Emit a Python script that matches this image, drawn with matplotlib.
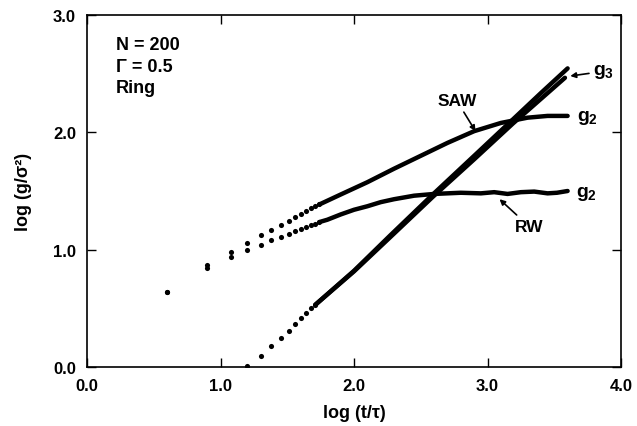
import matplotlib
matplotlib.use('Agg')
import matplotlib.pyplot as plt

plt.rcParams['font.family'] = ['Liberation Sans', 'DejaVu Sans']
plt.rcParams['font.weight'] = 'bold'
plt.rcParams['mathtext.fontset'] = 'custom'
plt.rcParams['mathtext.rm'] = 'Liberation Sans:bold'
plt.rcParams['mathtext.it'] = 'Liberation Sans:bold'
plt.rcParams['mathtext.bf'] = 'Liberation Sans:bold'

# ---- podatki, odcitani s slike ----
# zgodnje tocke (diskretni casi)
dot_x = [0.60, 0.90, 1.08, 1.20, 1.30, 1.38, 1.45, 1.51, 1.56, 1.60, 1.64, 1.68, 1.71, 1.74]
saw_dot_y = [0.64, 0.87, 0.98, 1.06, 1.125, 1.17, 1.21, 1.247, 1.276, 1.304, 1.33, 1.353, 1.37, 1.385]
rw_dot_y = [0.64, 0.84, 0.935, 0.997, 1.043, 1.08, 1.108, 1.134, 1.159, 1.176, 1.193, 1.21, 1.222, 1.235]

g3_dot_x = [1.20, 1.30, 1.38, 1.45, 1.51, 1.56, 1.60, 1.64, 1.68, 1.71]
g3_dot_y = [0.01, 0.09, 0.18, 0.25, 0.31, 0.367, 0.415, 0.46, 0.50, 0.53]

# zvezni del krivulj
saw_x = [1.74, 1.90, 2.10, 2.30, 2.50, 2.70, 2.90, 3.10, 3.30, 3.45, 3.60]
saw_y = [1.385, 1.47, 1.575, 1.69, 1.80, 1.91, 2.01, 2.08, 2.125, 2.14, 2.14]

rw_x = [1.74, 1.80, 1.90, 2.00, 2.10, 2.20, 2.30, 2.45, 2.60, 2.80, 2.95, 3.05, 3.15, 3.25, 3.35, 3.45, 3.52, 3.60]
rw_y = [1.235, 1.255, 1.30, 1.34, 1.37, 1.405, 1.43, 1.46, 1.475, 1.485, 1.48, 1.49, 1.475, 1.49, 1.495, 1.48, 1.485, 1.50]

g3_saw_x = [1.71, 2.00, 2.27, 2.59, 2.90, 3.19, 3.40, 3.60]
g3_saw_y = [0.53, 0.82, 1.12, 1.47, 1.80, 2.11, 2.335, 2.545]
g3_rw_x = [1.71, 2.00, 2.27, 2.59, 2.90, 3.19, 3.40, 3.58]
g3_rw_y = [0.53, 0.815, 1.105, 1.45, 1.77, 2.075, 2.285, 2.465]

fig = plt.figure(figsize=(6.37, 4.27), dpi=100)
ax = fig.add_axes([0.1366, 0.1382, 0.8383, 0.8243])

lw = 3.2
ax.plot(saw_x, saw_y, color='black', lw=lw, solid_capstyle='round')
ax.plot(rw_x, rw_y, color='black', lw=lw, solid_capstyle='round')
ax.plot(g3_saw_x, g3_saw_y, color='black', lw=lw, solid_capstyle='round')
ax.plot(g3_rw_x, g3_rw_y, color='black', lw=lw, solid_capstyle='round')

ms = 3.7
ax.plot(dot_x, saw_dot_y, 'o', color='black', ms=ms, mew=0)
ax.plot(dot_x, rw_dot_y, 'o', color='black', ms=ms, mew=0)
ax.plot(g3_dot_x, g3_dot_y, 'o', color='black', ms=ms, mew=0)

ax.set_xlim(0, 4)
ax.set_ylim(0, 3)
ax.set_xticks([0, 1, 2, 3, 4])
ax.set_yticks([0, 1, 2, 3])
ax.set_xticklabels(['0.0', '1.0', '2.0', '3.0', '4.0'])
ax.set_yticklabels(['0.0', '1.0', '2.0', '3.0'])
ax.tick_params(direction='in', length=6.5, width=1.0, top=True, right=True,
               labelsize=12, pad=8)
for s in ax.spines.values():
    s.set_linewidth(1.2)

ax.set_xlabel('log (t/τ)', fontsize=13, fontweight='bold', labelpad=8)
ax.set_ylabel('log (g/σ²)', fontsize=13, fontweight='bold', labelpad=15)

ax.text(0.217, 2.71, 'N = 200', fontsize=13, fontweight='bold', va='baseline')
ax.text(0.217, 2.52, 'Γ = 0.5', fontsize=13, fontweight='bold', va='baseline')
ax.text(0.217, 2.34, 'Ring', fontsize=13, fontweight='bold', va='baseline')

arrow = dict(arrowstyle='-|>', color='black', lw=1.2, mutation_scale=8, shrinkA=1, shrinkB=0)
ax.annotate('SAW', xy=(2.91, 2.01), xytext=(2.77, 2.27), fontsize=12.5, fontweight='bold',
            ha='center', va='center', arrowprops=arrow)
ax.annotate('RW', xy=(3.09, 1.43), xytext=(3.31, 1.20), fontsize=12.5, fontweight='bold',
            ha='center', va='center', arrowprops=arrow)
ax.annotate('$g_3$', xy=(3.62, 2.48), xytext=(3.87, 2.52), fontsize=14,
            ha='center', va='center', arrowprops=arrow)
ax.text(3.75, 2.13, '$g_2$', fontsize=14, ha='center', va='center')
ax.text(3.74, 1.48, '$g_2$', fontsize=14, ha='center', va='center')

plt.savefig('out.png', dpi=100)
